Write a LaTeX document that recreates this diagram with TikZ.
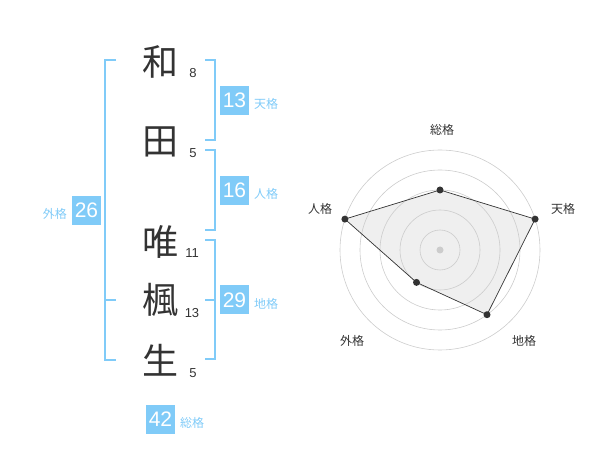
\documentclass[tikz,border=0pt]{standalone}
\usepackage{fontspec}
\setmainfont{Liberation Sans}
\newfontfamily\cjk{Noto Sans CJK JP}
\definecolor{sky}{HTML}{80CBF8}
\definecolor{ink}{HTML}{333333}
\definecolor{ring}{HTML}{CCCCCC}
\definecolor{area}{HTML}{EFEFEF}
\begin{document}
\begin{tikzpicture}[x=1pt,y=-1pt,
  kanji/.style={text=ink,font=\cjk\fontsize{36}{36}\selectfont,inner sep=0pt},
  strokes/.style={text=ink,font=\fontsize{13}{13}\selectfont,inner sep=0pt},
  bracket/.style={draw=sky,line width=1.6pt},
  valbox/.style={fill=sky,text=white,font=\fontsize{21}{21}\selectfont,minimum width=29pt,minimum height=29pt,inner sep=0pt},
  kaku/.style={text=sky,font=\cjk\fontsize{12}{12}\selectfont,inner sep=0pt},
  axislabel/.style={text=ink,font=\cjk\fontsize{12}{12}\selectfont,inner sep=0pt},
  ringline/.style={draw=ring,line width=0.6pt},
  dot/.style={circle,fill=ink,inner sep=0pt,minimum size=7pt}]
\useasboundingbox (0,0) rectangle (600,470);
% name characters
\node[kanji] (c1) at (160,62) {和};
\node[kanji] (c2) at (160,142) {田};
\node[kanji] (c3) at (160,242) {唯};
\node[kanji] (c4) at (160,300) {楓};
\node[kanji] (c5) at (160,360) {生};
\node[strokes] (s1) at (193,73) {8};
\node[strokes] (s2) at (193,153) {5};
\node[strokes] (s3) at (192,253) {11};
\node[strokes] (s4) at (192,313) {13};
\node[strokes] (s5) at (193,373) {5};
% brackets
\draw[bracket] (116,60) -- (105,60) -- (105,360) -- (116,360);
\draw[bracket] (105,300) -- (116,300);
\draw[bracket] (205,60) -- (215,60) -- (215,140) -- (205,140);
\draw[bracket] (205,150) -- (215,150) -- (215,230) -- (205,230);
\draw[bracket] (205,240) -- (215,240) -- (215,359) -- (205,359);
\draw[bracket] (205,300) -- (215,300);
% value boxes
\node[valbox] (b26) at (86.5,210.5) {26};
\node[kaku,anchor=east] (l26) at (67,214) {外格};
\node[valbox] (b13) at (234.5,100.5) {13};
\node[kaku,anchor=west] (l13) at (254,104) {天格};
\node[valbox] (b16) at (234.5,190.5) {16};
\node[kaku,anchor=west] (l16) at (254,194) {人格};
\node[valbox] (b29) at (234.5,300) {29};
\node[kaku,anchor=west] (l29) at (254,304) {地格};
\node[valbox] (b42) at (160.5,419.5) {42};
\node[kaku,anchor=west] (l42) at (180,423) {総格};
% radar chart
\coordinate (o) at (440,250);
\path (o) ++(0,-60) coordinate (ps);
\path (o) ++(95.1,-30.9) coordinate (pt);
\path (o) ++(47.0,64.7) coordinate (pc);
\path (o) ++(-23.5,32.4) coordinate (pg);
\path (o) ++(-95.1,-30.9) coordinate (pj);
\fill[area] (ps) -- (pt) -- (pc) -- (pg) -- (pj) -- cycle;
\foreach \r in {20,40,60,80,100} \draw[ringline] (o) circle[radius=\r];
\fill[ring] (o) circle[radius=3.5];
\draw[draw=ink,line width=0.7pt] (ps) -- (pt) -- (pc) -- (pg) -- (pj) -- cycle;
\foreach \p in {ps,pt,pc,pg,pj} \node[dot] at (\p) {};
\node[axislabel] (a1) at (442,130) {総格};
\node[axislabel] (a2) at (563,209) {天格};
\node[axislabel] (a3) at (524,341) {地格};
\node[axislabel] (a4) at (352,341) {外格};
\node[axislabel] (a5) at (320,209) {人格};
\end{tikzpicture}
\end{document}
